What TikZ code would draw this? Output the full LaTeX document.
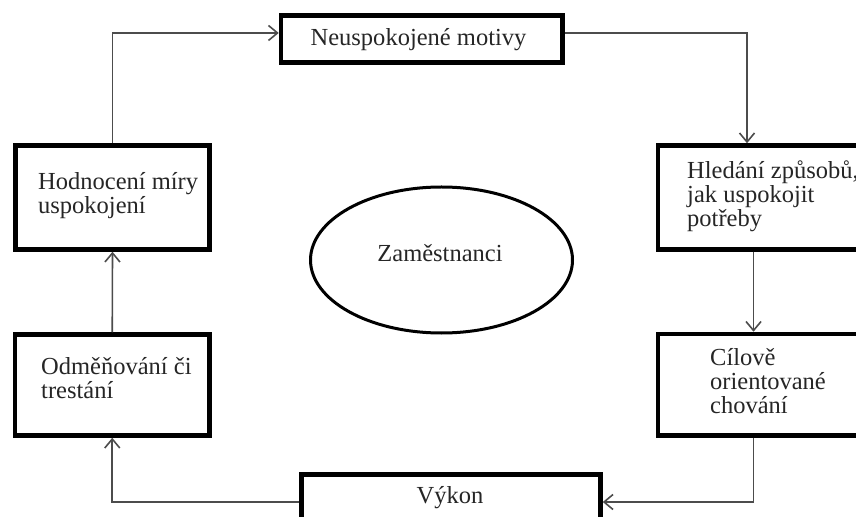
\documentclass[tikz,border=0pt]{standalone}
\usepackage{fontspec}
\setmainfont{Liberation Serif}
\usetikzlibrary{arrows.meta,shapes.geometric}
\begin{document}
\begin{tikzpicture}[x=1bp,y=-1bp,
  box/.style={draw=black, line width=4.5bp, rectangle, inner sep=0pt},
  oval/.style={draw=black, line width=3bp, ellipse, inner sep=0pt},
  txt/.style={inner sep=0pt, align=left, text=black!85,
    font=\fontsize{24.5bp}{24bp}\selectfont},
  conn/.style={draw=black!70, line width=1.6bp},
  arr/.style={conn, -{Straight Barb[length=9bp,width=15bp,line width=1.6bp]}}]
\useasboundingbox (0,0) rectangle (856,517);
\clip (0,0) rectangle (856,517);
\fill[white] (0,0) rectangle (856,517);
% boxes
\node[box, minimum width=281.5bp, minimum height=47bp] (N) at (421.75,39) {};
\node[box, minimum width=242bp, minimum height=104bp] (H) at (779,197.5) {};
\node[box, minimum width=242bp, minimum height=101.5bp] (C) at (779,384.75) {};
\node[box, minimum width=194bp, minimum height=104bp] (Ho) at (112.5,197.5) {};
\node[box, minimum width=194.5bp, minimum height=101bp] (O) at (112.25,385) {};
\node[box, minimum width=299bp, minimum height=85.5bp] (V) at (451,517.25) {};
\node[oval, minimum width=262bp, minimum height=146bp] (E) at (441.5,260) {};
% texts (base anchor of a multi-line node = baseline of its last line)
\node[txt, anchor=base] (tN) at (418.5,46) {Neuspokojené motivy};
\node[txt, anchor=base west] (tH) at (687,227) {Hledání způsobů,\\jak uspokojit\\potřeby};
\node[txt, anchor=base west] (tC) at (710,413) {Cílově\\orientované\\chování};
\node[txt, anchor=base west] (tHo) at (38,213.5) {Hodnocení míry\\uspokojení};
\node[txt, anchor=base west] (tO) at (41,398) {Odměňování či\\trestání};
\node[txt, anchor=base] (tV) at (450,503) {Výkon};
\node[txt, anchor=base] (tE) at (440,262) {Zaměstnanci};
% helper coordinates
\coordinate (yT) at (0,33);
\coordinate (yB) at (0,502);
\coordinate (xR1) at (747,0);
\coordinate (xR2) at (753.5,0);
% connectors
\draw[arr] (Ho.north) |- (N.west |- yT);
\draw[arr] (N.east |- yT) -| (H.north -| xR1);
\draw[arr] (H.south -| xR2) -- (C.north -| xR2);
\draw[arr] (C.south -| xR2) |- (V.east |- yB);
\draw[arr] (V.west |- yB) -| (O.south);
\draw[arr] (O.north) -- (Ho.south);
\end{tikzpicture}
\end{document}
